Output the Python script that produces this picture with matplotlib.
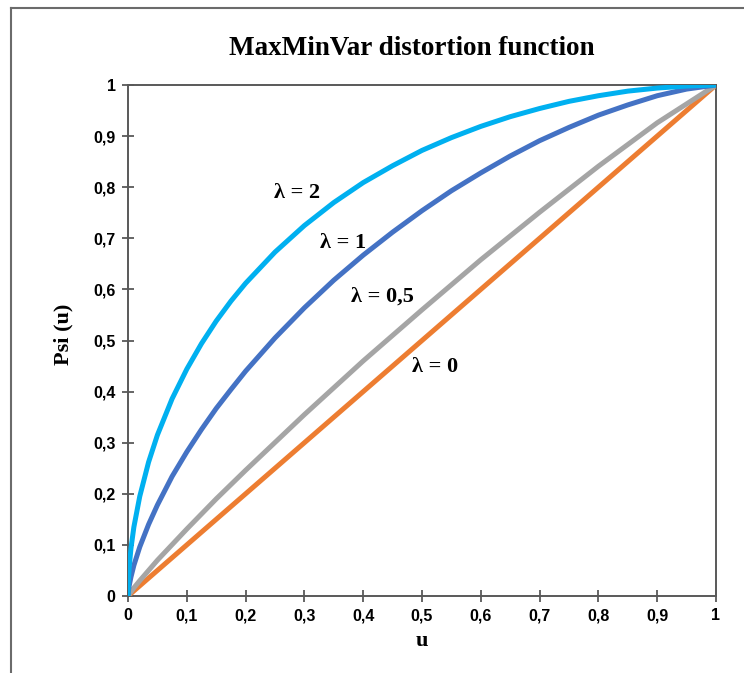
import matplotlib
matplotlib.use("Agg")
import matplotlib.pyplot as plt
from matplotlib.lines import Line2D

# values
u_steep = [0, 0.0005, 0.002, 0.005, 0.01, 0.02, 0.035, 0.05, 0.075, 0.1, 0.125, 0.15,
           0.175, 0.2, 0.25, 0.3, 0.35, 0.4, 0.45, 0.5, 0.55, 0.6, 0.65, 0.7, 0.75,
           0.8, 0.85, 0.9, 0.95, 1.0]
psi_lam2 = [0, 0.026, 0.056, 0.093, 0.135, 0.195, 0.262, 0.315, 0.386, 0.444, 0.494, 0.538,
            0.577, 0.612, 0.673, 0.725, 0.770, 0.809, 0.842, 0.872, 0.897, 0.919, 0.938, 0.954, 0.968,
            0.979, 0.988, 0.994, 0.998, 1.0]
psi_lam1 = [0, 0.008, 0.020, 0.037, 0.060, 0.096, 0.140, 0.178, 0.234, 0.282, 0.326, 0.367,
            0.404, 0.440, 0.505, 0.564, 0.618, 0.667, 0.712, 0.754, 0.793, 0.828, 0.861, 0.891, 0.917,
            0.941, 0.961, 0.979, 0.992, 1.0]

u_flat = [0, 0.005, 0.01, 0.02, 0.05, 0.1, 0.15, 0.2, 0.3, 0.4, 0.5, 0.6, 0.7, 0.8, 0.9, 1.0]
psi_lam05 = [0, 0.008, 0.016, 0.030, 0.070, 0.131, 0.190, 0.246, 0.355, 0.460, 0.560,
             0.658, 0.751, 0.841, 0.926, 1.0]
psi_lam0 = [0, 0.005, 0.01, 0.02, 0.05, 0.1, 0.15, 0.2, 0.3, 0.4, 0.5, 0.6, 0.7, 0.8, 0.9, 1.0]

ticks = [0, 0.1, 0.2, 0.3, 0.4, 0.5, 0.6, 0.7, 0.8, 0.9, 1]
tick_labels = ["0", "0,1", "0,2", "0,3", "0,4", "0,5", "0,6", "0,7", "0,8", "0,9", "1"]

fig = plt.figure(figsize=(7.44, 6.73), dpi=100)
ax = fig.add_axes([128 / 744, 77 / 673, 588 / 744, 511 / 673])

ax.plot(u_flat, psi_lam0, color="#ED7D31", lw=3.6, solid_capstyle="butt", zorder=3)
ax.plot(u_flat, psi_lam05, color="#A5A5A5", lw=3.6, solid_capstyle="butt", zorder=3)
ax.plot(u_steep, psi_lam1, color="#4472C4", lw=3.6, solid_capstyle="butt", zorder=3)
ax.plot(u_steep, psi_lam2, color="#00B0F0", lw=3.6, solid_capstyle="butt", zorder=3)

ax.set_xlim(0, 1)
ax.set_ylim(0, 1)
ax.set_xticks(ticks)
ax.set_yticks(ticks)
ax.set_xticklabels(tick_labels, fontfamily="Liberation Sans", fontweight="bold", fontsize=11.5)
ax.set_yticklabels(tick_labels, fontfamily="Liberation Sans", fontweight="bold", fontsize=11.5)
ax.tick_params(direction="inout", length=8, width=1.3, color="#595959", pad=5)

for s in ax.spines.values():
    s.set_color("#595959")
    s.set_linewidth(1.4)

serif = "Liberation Serif"
ax.text(0.483, 1.072, "MaxMinVar distortion function", transform=ax.transAxes,
        ha="center", va="center", fontfamily=serif, fontweight="bold", fontsize=19.5)
ax.set_xlabel("u", fontfamily=serif, fontweight="bold", fontsize=16)
ax.xaxis.set_label_coords(0.5, -0.088)
ax.xaxis.label.set_verticalalignment("center")
ax.set_ylabel("Psi (u)", fontfamily=serif, fontweight="bold", fontsize=16)
ax.yaxis.set_label_coords(-0.1105, 0.513)
ax.yaxis.label.set_verticalalignment("center")

lab = dict(ha="center", va="center", fontfamily=serif, fontweight="bold", fontsize=16)
ax.text(0.287, 0.789, "λ = 2", **lab)
ax.text(0.366, 0.691, "λ = 1", **lab)
ax.text(0.432, 0.585, "λ = 0,5", **lab)
ax.text(0.522, 0.448, "λ = 0", **lab)

# outer frame (only top and left edges visible)
fig.add_artist(Line2D([11 / 744, 1], [1 - 8 / 673, 1 - 8 / 673], color="#6b6b6b", lw=1.5))
fig.add_artist(Line2D([11 / 744, 11 / 744], [0, 1 - 8 / 673], color="#6b6b6b", lw=1.5))

fig.savefig("out.png", dpi=100)
